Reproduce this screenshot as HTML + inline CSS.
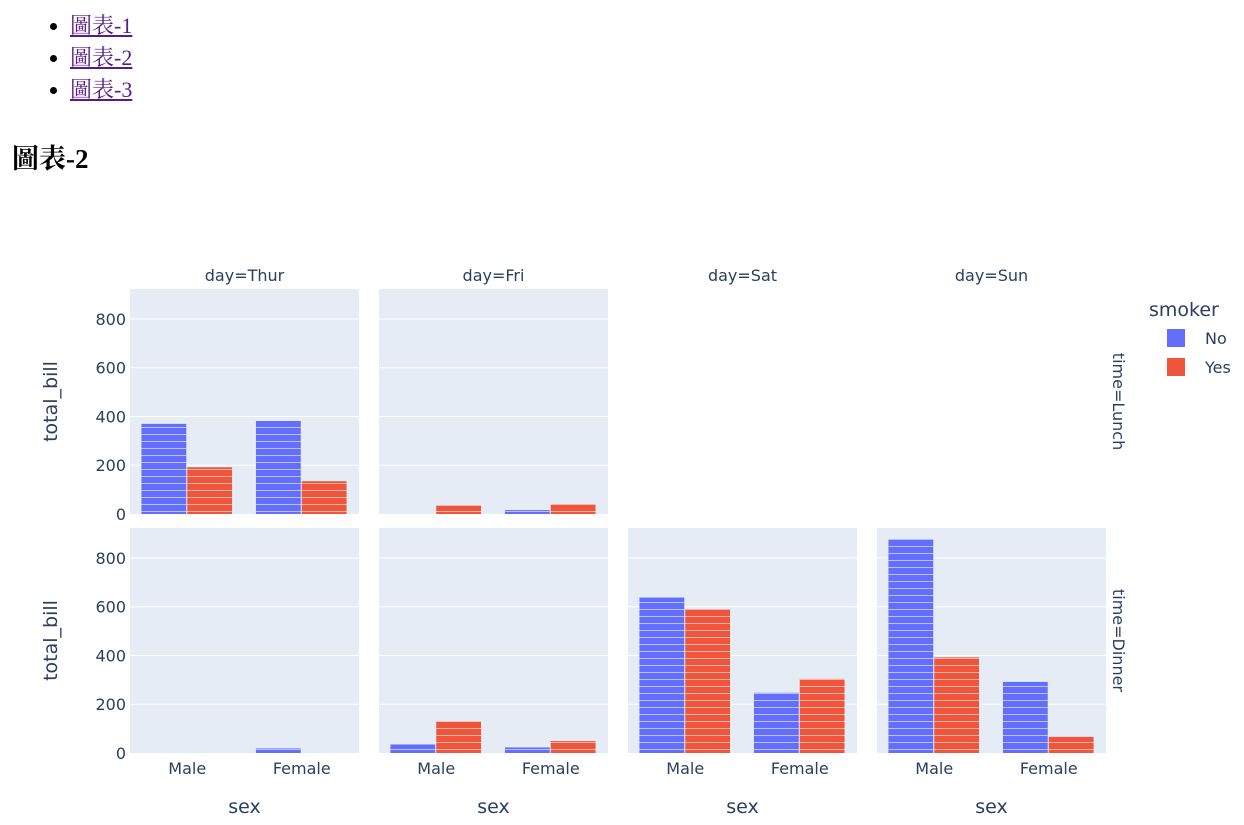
<!DOCTYPE html>
<html><head><meta charset="utf-8">
<style>
body{margin:0;background:#fff;width:1244px;height:825px;overflow:hidden;font-family:"Liberation Serif","Noto Serif CJK SC",serif;}
ul{position:absolute;left:30px;top:0;margin:10px 0 0 0;padding-left:40px;font-size:22px;line-height:32px;}
ul a{color:#551a8b;}
h2{position:absolute;left:12px;top:137px;margin:0;font-size:27px;font-weight:bold;}
svg{position:absolute;left:0;top:0;}
svg text{font-family:"DejaVu Sans","Noto Sans CJK SC",sans-serif;fill:#2a3f5f;}
</style></head><body>
<ul>
<li><a href="#">圖表-1</a></li>
<li><a href="#">圖表-2</a></li>
<li><a href="#">圖表-3</a></li>
</ul>
<h2>圖表-2</h2>
<svg id="chart" width="1244" height="825">
<defs><pattern id="stripes" width="10" height="7" patternUnits="userSpaceOnUse"><rect x="0" y="0" width="10" height="1" fill="#fff" opacity="0.55"/></pattern></defs>
</svg>
<script>
const days=["Thur","Fri","Sat","Sun"];
const times=["Lunch","Dinner"];
const sexes=["Male","Female"];
const smokers=["No","Yes"];
// values[time][day] = [MaleNo, MaleYes, FemaleNo, FemaleYes]; null = empty panel
const lunchVals=[[369.73,191.71,381.58,134.53],[0,34.16,15.98,39.78],null,null];
const dinnerVals=[[0,0,18.78,0],[34.95,129.46,22.75,48.80],[637.73,589.62,247.05,304.00],[877.34,392.12,291.54,66.16]];
const yTicks=[0,200,400,600,800];
const colors=["#636efa","#ef553b"];
const svg=document.getElementById('chart');
const NS="http://www.w3.org/2000/svg";
function el(t,a,txt){const e=document.createElementNS(NS,t);for(const k in a)e.setAttribute(k,a[k]);if(txt!==undefined)e.textContent=txt;svg.appendChild(e);return e;}
const colX=[130,379,628,877],pw=229;
const rowY=[289,528],ph=225;
const yMax=923;
function yScale(r,v){return rowY[r]+ph-v/yMax*ph;}
const rows=[lunchVals,dinnerVals];
rows.forEach((vals,r)=>{
  vals.forEach((v,c)=>{
    if(v===null) return;
    const bg=el('rect',{x:colX[c],y:rowY[r],width:pw,height:ph,fill:'#e5ecf6'});
    
    
    yTicks.forEach(t=>{if(t>0){const g=el('line',{x1:colX[c],x2:colX[c]+pw,y1:yScale(r,t),y2:yScale(r,t),stroke:'#fff','stroke-width':1});
      }});
    const cw=pw/2,bw=cw*0.8/2;
    v.forEach((val,i)=>{
      const s=Math.floor(i/2),k=i%2;
      if(val<=0) return;
      const x=colX[c]+s*cw+cw*0.1+k*bw;
      const y=yScale(r,val),h=yScale(r,0)-y;
      const b=el('rect',{x:x,y:y,width:bw-1,height:h,fill:colors[k]});
      
      
      const p=el('rect',{x:x,y:y,width:bw-1,height:h,fill:'url(#stripes)'});
      
    });
  });
});
[0,1].forEach(r=>{
  yTicks.forEach(t=>{const tx=el('text',{x:126,y:yScale(r,t)+6,'text-anchor':'end','font-size':16},t);
    });
  const cy=rowY[r]+ph/2;
  const yt=el('text',{x:57,y:cy,'text-anchor':'middle','font-size':19,transform:'rotate(-90 57 '+cy+')'},'total_bill');
  
  const rl=el('text',{x:1113,y:rowY[r]+ph/2,'text-anchor':'middle','font-size':16,transform:'rotate(90 1113 '+(rowY[r]+ph/2)+')'},'time='+times[r]);
  
});
days.forEach((d,c)=>{
  const ft=el('text',{x:colX[c]+pw/2,y:281,'text-anchor':'middle','font-size':16},'day='+d);
  
  sexes.forEach((s,i)=>{const tx=el('text',{x:colX[c]+pw/4+i*pw/2,y:774,'text-anchor':'middle','font-size':16},s);
    });
  const xt=el('text',{x:colX[c]+pw/2,y:813,'text-anchor':'middle','font-size':19},'sex');
  
});
const lt=el('text',{x:1149,y:316,'font-size':19},'smoker');

smokers.forEach((s,i)=>{
  const sq=el('rect',{x:1167,y:329+i*29,width:18,height:18,fill:colors[i]});
  
  const tx=el('text',{x:1205,y:344+i*29,'font-size':16},s);
  
});
</script>
</body></html>
